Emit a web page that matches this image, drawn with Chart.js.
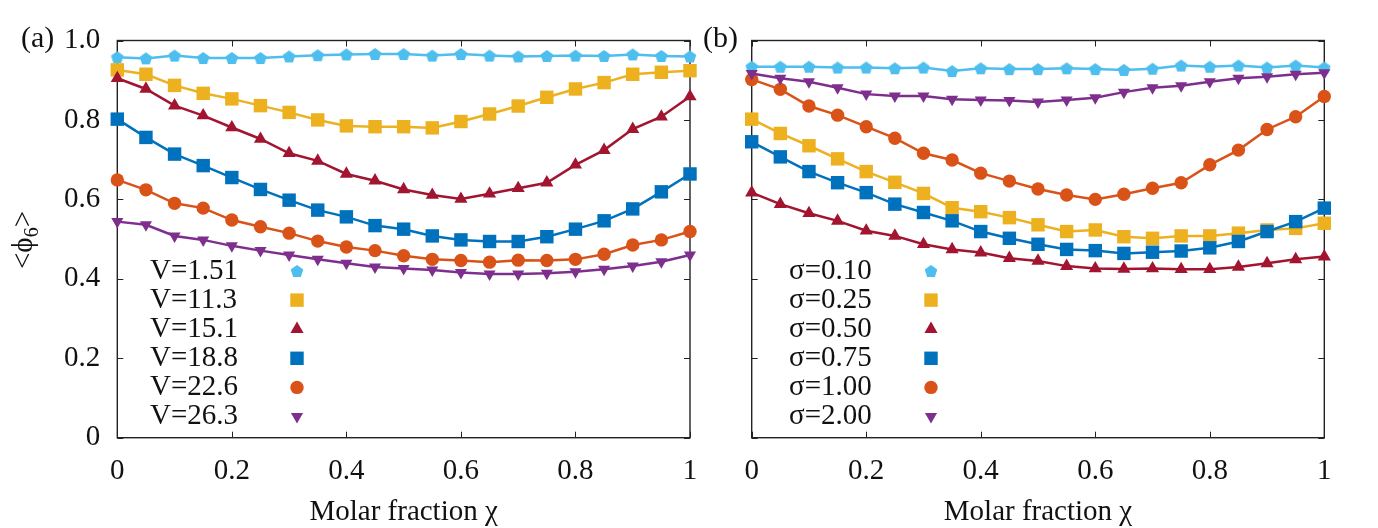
<!DOCTYPE html>
<html>
<head>
<meta charset="utf-8">
<script src="https://cdn.jsdelivr.net/npm/chart.js@4"></script>
<style>
  body { margin: 0; background: #fff; width: 1378px; height: 528px; position: relative; overflow: hidden; }
  .panel { position: absolute; top: 0; height: 528px; }
  #wrapA { left: 0; width: 700px; }
  #wrapB { left: 700px; width: 678px; }
</style>
</head>
<body>
<div id="wrapA" class="panel"><canvas id="chartA"></canvas></div>
<div id="wrapB" class="panel"><canvas id="chartB"></canvas></div>
<script>
// molar fraction values (x)
const chi = [0, 0.05, 0.1, 0.15, 0.2, 0.25, 0.3, 0.35, 0.4, 0.45, 0.5, 0.55, 0.6, 0.65, 0.7, 0.75, 0.8, 0.85, 0.9, 0.95, 1];

// panel (a): <phi6> for several V
const phiV1_51 = [0.958, 0.955, 0.962, 0.956, 0.956, 0.956, 0.960, 0.963, 0.965, 0.966, 0.966, 0.962, 0.966, 0.962, 0.960, 0.961, 0.962, 0.961, 0.965, 0.961, 0.960];
const phiV11_3 = [0.926, 0.915, 0.887, 0.867, 0.853, 0.836, 0.819, 0.800, 0.785, 0.783, 0.783, 0.780, 0.796, 0.815, 0.835, 0.857, 0.878, 0.894, 0.915, 0.920, 0.924];
const phiV15_1 = [0.905, 0.878, 0.836, 0.811, 0.781, 0.752, 0.716, 0.697, 0.664, 0.647, 0.625, 0.611, 0.601, 0.614, 0.628, 0.642, 0.687, 0.724, 0.777, 0.808, 0.859];
const phiV18_8 = [0.802, 0.756, 0.714, 0.685, 0.655, 0.625, 0.598, 0.573, 0.556, 0.534, 0.525, 0.508, 0.498, 0.494, 0.494, 0.506, 0.525, 0.546, 0.576, 0.619, 0.664];
const phiV22_6 = [0.649, 0.624, 0.590, 0.578, 0.548, 0.531, 0.515, 0.495, 0.480, 0.471, 0.458, 0.449, 0.446, 0.442, 0.447, 0.446, 0.449, 0.462, 0.485, 0.498, 0.519];
const phiV26_3 = [0.544, 0.536, 0.508, 0.498, 0.483, 0.471, 0.460, 0.449, 0.439, 0.430, 0.426, 0.422, 0.416, 0.412, 0.412, 0.414, 0.418, 0.424, 0.432, 0.443, 0.460];

// panel (b): <phi6> for several sigma
const phiS0_10 = [0.934, 0.934, 0.934, 0.932, 0.932, 0.930, 0.932, 0.923, 0.930, 0.928, 0.928, 0.930, 0.928, 0.926, 0.929, 0.937, 0.934, 0.937, 0.932, 0.937, 0.932];
const phiS0_25 = [0.802, 0.766, 0.735, 0.702, 0.670, 0.643, 0.615, 0.579, 0.569, 0.554, 0.536, 0.519, 0.523, 0.506, 0.502, 0.508, 0.508, 0.515, 0.523, 0.527, 0.540];
const phiS0_50 = [0.617, 0.588, 0.565, 0.546, 0.521, 0.508, 0.487, 0.474, 0.466, 0.452, 0.445, 0.432, 0.426, 0.425, 0.426, 0.424, 0.424, 0.430, 0.439, 0.449, 0.456];
const phiS0_75 = [0.745, 0.707, 0.670, 0.642, 0.617, 0.588, 0.567, 0.546, 0.519, 0.502, 0.487, 0.474, 0.471, 0.464, 0.467, 0.470, 0.478, 0.494, 0.519, 0.544, 0.578];
const phiS1_00 = [0.902, 0.877, 0.835, 0.812, 0.783, 0.754, 0.716, 0.699, 0.666, 0.646, 0.626, 0.611, 0.600, 0.613, 0.628, 0.642, 0.687, 0.724, 0.776, 0.808, 0.859];
const phiS2_00 = [0.917, 0.905, 0.896, 0.881, 0.865, 0.860, 0.860, 0.852, 0.850, 0.849, 0.845, 0.850, 0.856, 0.870, 0.881, 0.886, 0.896, 0.905, 0.909, 0.915, 0.919];

const labelsA = ["V=1.51", "V=11.3", "V=15.1", "V=18.8", "V=22.6", "V=26.3"];
const labelsB = ["σ=0.10", "σ=0.25", "σ=0.50", "σ=0.75", "σ=1.00", "σ=2.00"];

const xTicks = [0, 0.2, 0.4, 0.6, 0.8, 1];
const xTickLabels = ["0", "0.2", "0.4", "0.6", "0.8", "1"];
const yTicks = [0, 0.2, 0.4, 0.6, 0.8, 1];
const yTickLabels = ["0", "0.2", "0.4", "0.6", "0.8", "1.0"];

const colors = ["#4dbeee", "#edb120", "#a2142f", "#0072bd", "#d95319", "#7e2f8e"];
const FONT = "'Liberation Serif', 'Times New Roman', serif";
const FS = 29;

// gnuplot-like pentagon marker, Chart.js has none
function pentagon(color, r) {
  const c = document.createElement("canvas");
  c.width = c.height = Math.ceil(r * 2 + 2);
  const g = c.getContext("2d");
  const cx = c.width / 2, cy = c.height / 2 + r * 0.1;
  g.fillStyle = color;
  g.beginPath();
  for (let k = 0; k < 5; k++) {
    const a = -Math.PI / 2 + k * 2 * Math.PI / 5;
    g.lineTo(cx + r * Math.cos(a), cy + r * Math.sin(a));
  }
  g.closePath();
  g.fill();
  return c;
}

const markers = [
  { style: pentagon(colors[0], 6.6), radius: 7, rotation: 0 },
  { style: "rect", radius: 9.5, rotation: 0 },
  { style: "triangle", radius: 7.6, rotation: 0 },
  { style: "rect", radius: 9.5, rotation: 0 },
  { style: "circle", radius: 6.7, rotation: 0 },
  { style: "triangle", radius: 7, rotation: 180 },
];

function makeDatasets(series, labels) {
  return series.map(function (vals, i) {
    return {
      label: labels[i],
      data: vals.map(function (v, k) { return { x: chi[k], y: v }; }),
      borderColor: colors[i],
      backgroundColor: colors[i],
      pointBackgroundColor: colors[i],
      borderWidth: 2.5,
      pointStyle: markers[i].style,
      pointRadius: markers[i].radius,
      pointHoverRadius: markers[i].radius,
      pointRotation: markers[i].rotation,
      pointBorderWidth: 0,
      tension: 0,
      clip: false,
      order: series.length - i, // later series on top, like gnuplot
    };
  });
}

// border box + inward ticks on all four sides
const framePlugin = {
  id: "frame",
  beforeDatasetsDraw(chart) {
    const ctx = chart.ctx, a = chart.chartArea, sx = chart.scales.x, sy = chart.scales.y;
    ctx.save();
    ctx.strokeStyle = "#222";
    ctx.lineWidth = 1.4;
    ctx.strokeRect(a.left, a.top, a.right - a.left, a.bottom - a.top);
    ctx.lineWidth = 1;
    ctx.beginPath();
    xTicks.forEach(function (v) {
      const px = Math.round(sx.getPixelForValue(v)) + 0.5;
      ctx.moveTo(px, a.bottom); ctx.lineTo(px, a.bottom - 6);
      ctx.moveTo(px, a.top); ctx.lineTo(px, a.top + 6);
    });
    yTicks.forEach(function (v) {
      const py = Math.round(sy.getPixelForValue(v)) + 0.5;
      ctx.moveTo(a.left, py); ctx.lineTo(a.left + 6, py);
      ctx.moveTo(a.right, py); ctx.lineTo(a.right - 6, py);
    });
    ctx.stroke();
    ctx.restore();
  },
};

// panel tag, y title and the text-then-marker legend
const decorPlugin = {
  id: "decor",
  afterDraw(chart, args, opts) {
    const ctx = chart.ctx;
    ctx.save();
    ctx.fillStyle = "#111";
    ctx.font = "30px " + FONT;
    ctx.textBaseline = "alphabetic";
    ctx.textAlign = "left";
    ctx.fillText(opts.tag, opts.tagX, opts.tagY);

    if (opts.yTitle) {
      ctx.save();
      ctx.translate(opts.yTitleX, opts.yTitleY);
      ctx.rotate(-Math.PI / 2);
      ctx.font = FS + "px " + FONT;
      const w1 = ctx.measureText("<ϕ").width;
      ctx.font = "20px " + FONT;
      const w2 = ctx.measureText("6").width;
      ctx.font = FS + "px " + FONT;
      const w3 = ctx.measureText(">").width;
      let x = -(w1 + w2 + w3) / 2;
      ctx.fillText("<ϕ", x, 0);
      x += w1;
      ctx.font = "20px " + FONT;
      ctx.fillText("6", x, 6);
      x += w2;
      ctx.font = FS + "px " + FONT;
      ctx.fillText(">", x, 0);
      ctx.restore();
    }

    ctx.font = FS + "px " + FONT;
    ctx.textBaseline = "middle";
    chart.data.datasets.forEach(function (ds, i) {
      const y = opts.rowY + i * opts.rowStep;
      ctx.fillStyle = "#111";
      ctx.fillText(ds.label, opts.textX, y);
      ctx.fillStyle = ds.pointBackgroundColor;
      Chart.helpers.drawPoint(ctx, {
        pointStyle: ds.pointStyle,
        radius: ds.pointRadius,
        rotation: ds.pointRotation,
        borderWidth: 0,
      }, opts.markX, y);
    });
    ctx.restore();
  },
};

function makeChart(id, series, labels, showYLabels, padding, yWidth, decor) {
  return new Chart(document.getElementById(id), {
    type: "line",
    data: { datasets: makeDatasets(series, labels) },
    plugins: [framePlugin, decorPlugin],
    options: {
      responsive: true,
      maintainAspectRatio: false,
      animation: false,
      layout: { padding: padding },
      plugins: {
        legend: { display: false },
        tooltip: { enabled: false },
        decor: decor,
      },
      scales: {
        x: {
          type: "linear",
          min: 0,
          max: 1,
          afterBuildTicks: function (s) { s.ticks = xTicks.map(function (v) { return { value: v }; }); },
          afterFit: function (s) { s.height = 90.3; s.paddingLeft = 0; s.paddingRight = 0; },
          grid: { display: false, drawTicks: false },
          border: { display: false },
          ticks: {
            padding: 16,
            color: "#111",
            font: { family: FONT, size: FS },
            maxRotation: 0,
            callback: function (v) { return xTickLabels[xTicks.indexOf(v)]; },
          },
          title: {
            display: true,
            text: "Molar fraction χ",
            color: "#111",
            font: { family: FONT, size: FS, lineHeight: 1.05 },
            padding: { top: 0, bottom: 0 },
          },
        },
        y: {
          type: "linear",
          min: 0,
          max: 1,
          afterBuildTicks: function (s) { s.ticks = yTicks.map(function (v) { return { value: v }; }); },
          afterFit: function (s) { s.width = yWidth; s.paddingTop = 0; s.paddingBottom = 0; },
          grid: { display: false, drawTicks: false },
          border: { display: false },
          ticks: {
            display: showYLabels,
            padding: 17,
            color: "#111",
            font: { family: FONT, size: FS },
            callback: function (v) { return yTickLabels[yTicks.indexOf(v)]; },
          },
        },
      },
    },
  });
}

makeChart("chartA",
  [phiV1_51, phiV11_3, phiV15_1, phiV18_8, phiV22_6, phiV26_3],
  labelsA, true,
  { left: 0, top: 40.5, right: 10, bottom: 0 }, 117.3,
  { tag: "(a)", tagX: 21, tagY: 47, yTitle: true, yTitleX: 32, yTitleY: 240,
    textX: 150, markX: 297, rowY: 271, rowStep: 29.1 });

makeChart("chartB",
  [phiS0_10, phiS0_25, phiS0_50, phiS0_75, phiS1_00, phiS2_00],
  labelsB, false,
  { left: 0, top: 40.5, right: 53.7, bottom: 0 }, 51.7,
  { tag: "(b)", tagX: 3, tagY: 47, yTitle: false,
    textX: 89, markX: 231, rowY: 271, rowStep: 29.1 });
</script>
</body>
</html>
